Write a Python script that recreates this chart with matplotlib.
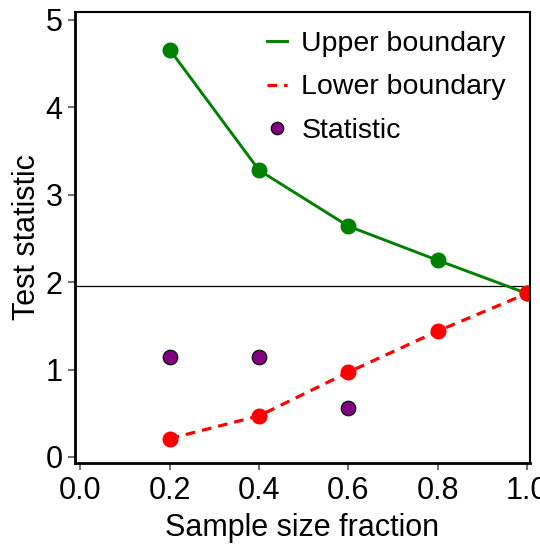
import numpy as np
import matplotlib.pyplot as plt
from matplotlib.lines import Line2D

plt.rcParams['font.family'] = ['Liberation Sans', 'DejaVu Sans']

frac = [0.2, 0.4, 0.6, 0.8, 1.0]
upper = [4.66, 3.28, 2.64, 2.25, 1.87]
lower = [0.21, 0.47, 0.97, 1.44, 1.87]
stat_x = [0.2, 0.4, 0.6]
stat_y = [1.14, 1.14, 0.56]
crit = 1.96

fig = plt.figure(figsize=(5.4, 5.48), dpi=100)
ax = fig.add_axes([0.139, 0.155, 0.842, 0.823])

ax.axhline(crit, color='black', lw=0.9)
ax.plot(frac, upper, color='green', lw=2.1, marker='o', ms=10.5)
ax.plot(frac, lower, color='red', lw=2.3, ls=(0, (3, 2.2)), marker='o', ms=10.5)
ax.plot(stat_x, stat_y, ls='none', marker='o', ms=10.5, mfc='purple', mec='black', mew=0.8)

handles = [
    Line2D([], [], color='green', lw=2.1),
    Line2D([], [], color='red', lw=2.3, ls=(0, (3, 2.2))),
    Line2D([], [], ls='none', marker='o', ms=9, mfc='purple', mec='black', mew=0.8),
]
ax.legend(handles, ['Upper boundary', 'Lower boundary', 'Statistic'], loc='upper right',
          frameon=False, fontsize=20.5, handlelength=0.7, handletextpad=0.5,
          labelspacing=0.6, borderaxespad=0.2, bbox_to_anchor=(0.985, 0.995))

ax.set_xlim(-0.012, 1.006)
ax.set_ylim(-0.07, 5.09)
ax.set_xticks([0.0, 0.2, 0.4, 0.6, 0.8, 1.0])
ax.set_yticks([0, 1, 2, 3, 4, 5])
ax.set_xticklabels(['0.0', '0.2', '0.4', '0.6', '0.8', '1.0'])
ax.tick_params(labelsize=22, length=5, width=1.2, color='#555555', pad=4)
for s in ax.spines.values():
    s.set_linewidth(1.5)
ax.spines['left'].set_linewidth(2)
ax.spines['bottom'].set_linewidth(2)

ax.set_xlabel('Sample size fraction', fontsize=22, labelpad=5)
ax.set_ylabel('Test statistic', fontsize=22, labelpad=2.5)

fig.savefig('out.png', dpi=100)
